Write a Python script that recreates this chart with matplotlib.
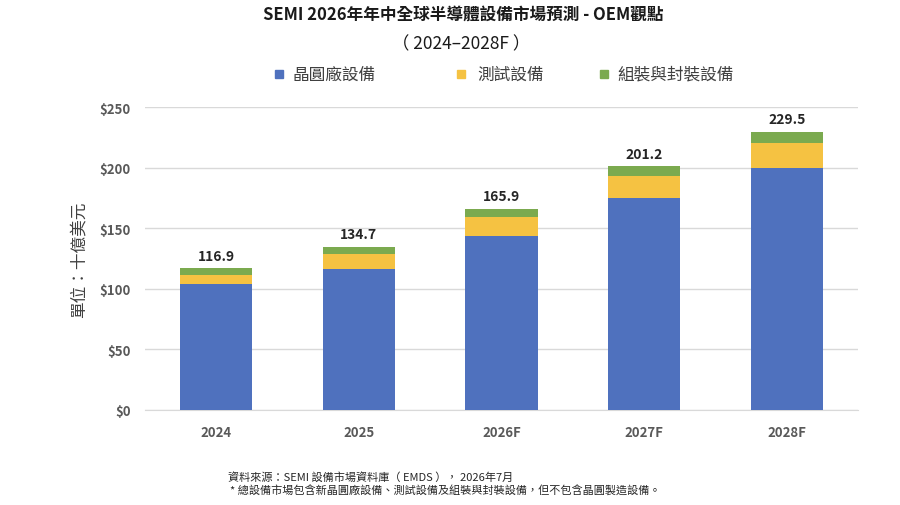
import matplotlib
matplotlib.use("Agg")
import matplotlib.pyplot as plt
from matplotlib.patches import Rectangle

plt.rcParams['font.family'] = ['Noto Sans CJK TC', 'DejaVu Sans']

categories = ['2024', '2025', '2026F', '2027F', '2028F']
wafer_fab = [104.0, 116.3, 143.3, 174.9, 199.9]
test_eq = [7.6, 12.4, 15.7, 17.9, 20.6]
assembly = [5.3, 6.0, 6.9, 8.4, 9.0]
totals = [116.9, 134.7, 165.9, 201.2, 229.5]
series_names = ['晶圓廠設備', '測試設備', '組裝與封裝設備']
yticks = [0, 50, 100, 150, 200, 250]
ytick_labels = ['$0', '$50', '$100', '$150', '$200', '$250']

c_blue = '#4F71BE'
c_yellow = '#F5C242'
c_green = '#7BAA4F'
colors = [c_blue, c_yellow, c_green]

fig = plt.figure(figsize=(9, 5.06), dpi=100)
ax = fig.add_axes([145/900, 1-411/506, (858-145)/900, (411-108)/506])

x = list(range(len(categories)))
w = 0.505
ax.bar(x, wafer_fab, w, color=c_blue, zorder=3)
ax.bar(x, test_eq, w, bottom=wafer_fab, color=c_yellow, zorder=3)
bot3 = [a + b for a, b in zip(wafer_fab, test_eq)]
ax.bar(x, assembly, w, bottom=bot3, color=c_green, zorder=3)

for xi, t in zip(x, totals):
    ax.annotate(f'{t:.1f}', (xi, t), xytext=(0, 4), textcoords='offset points',
                ha='center', va='bottom', fontsize=10, fontweight='bold', color='#262626')

ax.set_xlim(-0.5, len(categories) - 0.5)
ax.set_ylim(0, 250)
ax.set_yticks(yticks)
ax.set_yticklabels(ytick_labels)
ax.set_xticks(x)
ax.set_xticklabels(categories)
ax.yaxis.grid(True, color='#D9D9D9', linewidth=1, zorder=0)
for s in ['top', 'right', 'left']:
    ax.spines[s].set_visible(False)
ax.spines['bottom'].set_color('#D9D9D9')
ax.tick_params(axis='both', length=0)
ax.tick_params(axis='y', pad=10, labelsize=9.5, labelcolor='#595959')
ax.tick_params(axis='x', pad=11, labelsize=9.5, labelcolor='#595959')
for lab in ax.get_yticklabels() + ax.get_xticklabels():
    lab.set_fontweight('bold')

ax.set_ylabel('單位：十億美元', fontsize=12, color='#404040', labelpad=8)

fig.text(463/900, 1-15/506, 'SEMI 2026年年中全球半導體設備市場預測 - OEM觀點', ha='center', va='center',
         fontsize=12, fontweight='bold', color='#1a1a1a')
fig.text(461/900, 1-44/506, '（ 2024–2028F ）', ha='center', va='center', fontsize=12.5, color='#1a1a1a')

# legend drawn manually
leg_sq_x = [275, 457, 600]
leg_txt_x = [293, 477, 617]
for sx, tx, col, name in zip(leg_sq_x, leg_txt_x, colors, series_names):
    fig.patches.append(Rectangle((sx/900, 1-79/506), 8/900, 8/506, transform=fig.transFigure,
                                 color=col, figure=fig))
    fig.text(tx/900, 1-75/506, name, ha='left', va='center', fontsize=12, color='#404040')

fig.text(228/900, 1-477/506, '資料來源：SEMI 設備市場資料庫（ EMDS ）， 2026年7月', ha='left', va='center',
         fontsize=8, color='#262626')
fig.text(230/900, 1-491/506, '* 總設備市場包含新晶圓廠設備、測試設備及組裝與封裝設備，但不包含晶圓製造設備。',
         ha='left', va='center', fontsize=8, color='#262626')

fig.savefig('out.png', dpi=100)
